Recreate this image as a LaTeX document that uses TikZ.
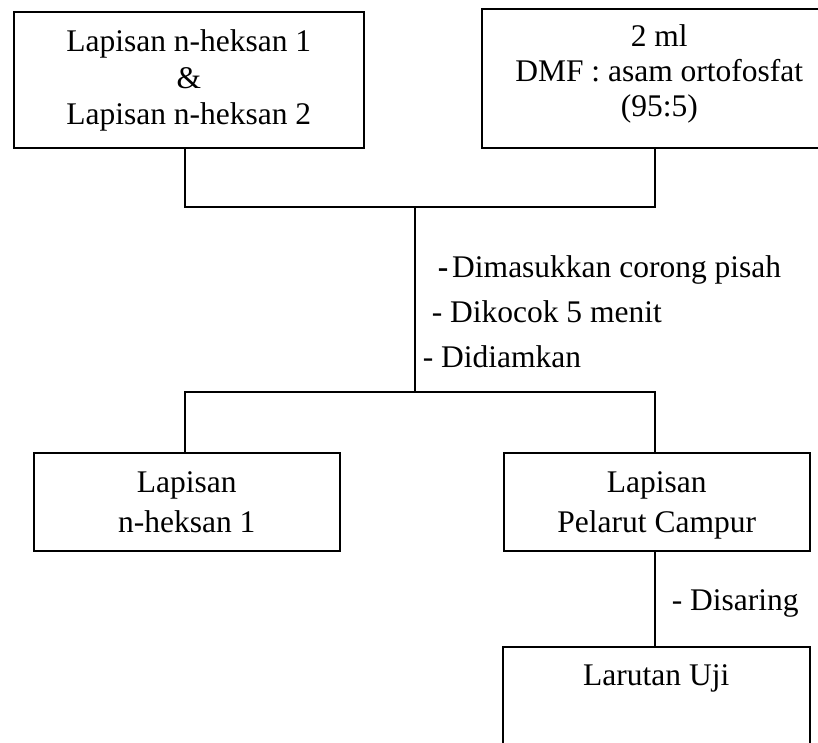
\documentclass[tikz,border=0pt]{standalone}
\usepackage{fontspec}
\setmainfont{Liberation Serif}
\begin{document}
\begin{tikzpicture}[x=1pt,y=-1pt,
  line width=1.5pt,
  txt/.style={font=\fontsize{31.5}{36.5}\selectfont, inner sep=0pt},
  stage/.style={txt, draw, align=center, anchor=north west},
  note/.style={txt, anchor=base west}]
  % page frame; boxes running past the edge are cut off
  \clip (0,0) rectangle (818,742);

  % boxes: anchored at their top-left corner; text height/depth
  % (measured from the last baseline) fix the top and bottom edges
  \node[stage, minimum width=350pt, text height=113pt, text depth=23pt] (hexane) at (13,11)
    {Lapisan n-heksan 1\\\&\\Lapisan n-heksan 2};
  \node[stage, minimum width=355pt, text height=108pt, text depth=31pt,
        font=\fontsize{31.5}{35}\selectfont] (solvent) at (481,8)
    {2 ml\\DMF : asam ortofosfat\\(95:5)};
  \node[stage, minimum width=306pt, text height=80pt, text depth=18pt,
        font=\fontsize{31.5}{40}\selectfont] (hexaneone) at (33,452)
    {Lapisan\\n-heksan 1};
  \node[stage, minimum width=306pt, text height=80pt, text depth=18pt,
        font=\fontsize{31.5}{40}\selectfont] (mixed) at (503,452)
    {Lapisan\\Pelarut Campur};
  \node[stage, minimum width=307pt, text height=39pt, text depth=110pt] (test) at (502,646)
    {Larutan Uji};

  % junction points of the connectors
  \coordinate (topL) at (185,207);
  \coordinate (topR) at (655,207);
  \coordinate (topM) at (415,207);
  \coordinate (botM) at (415,392);
  \coordinate (botL) at (185,392);
  \coordinate (botR) at (655,392);

  % connectors
  \draw (hexane.south -| topL) -- (topL) -- (topR) -- (solvent.south -| topR);
  \draw (topM) -- (botM);
  \draw (hexaneone.north -| botL) -- (botL) -- (botR) -- (mixed.north -| botR);
  \draw (mixed.south -| botR) -- (test.north -| botR);

  % process steps
  \node[note] (stepa) at (437,277) {\textbf{-}\hspace{4pt}Dimasukkan corong pisah};
  \node[note] (stepb) at (431,322) {- Dikocok 5 menit};
  \node[note] (stepc) at (422,367) {- Didiamkan};
  \node[note] (stepd) at (671,610) {- Disaring};
\end{tikzpicture}
\end{document}
